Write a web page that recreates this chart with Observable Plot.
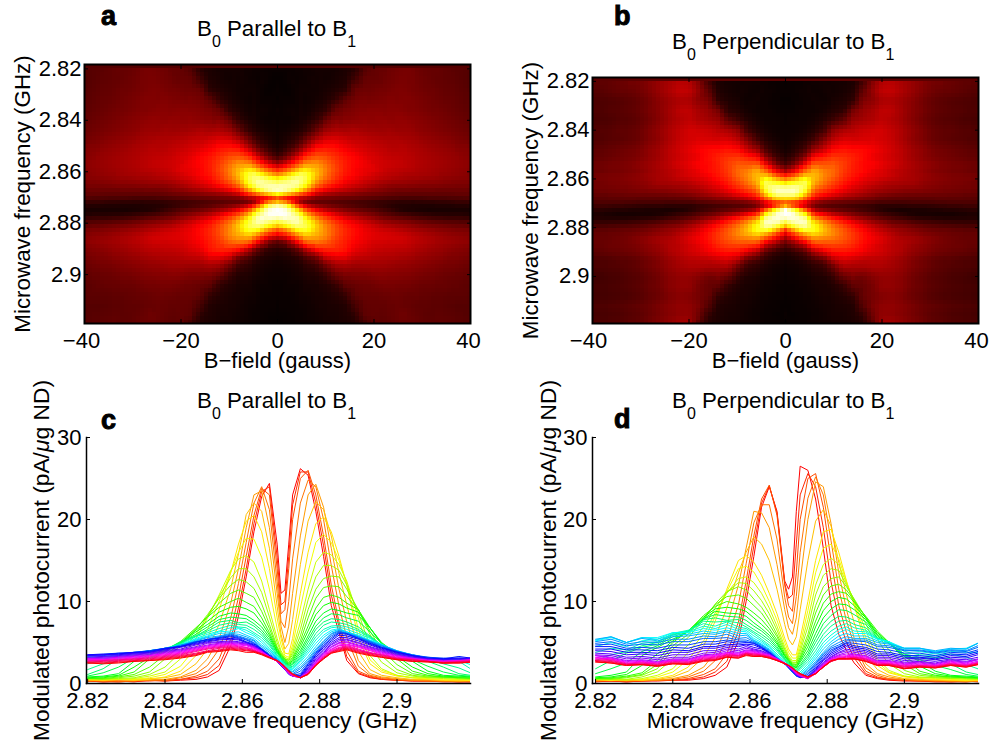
<!DOCTYPE html>
<html><head><meta charset="utf-8">
<script src="https://cdn.jsdelivr.net/npm/d3@7"></script>
<script src="https://cdn.jsdelivr.net/npm/@observablehq/plot@0.6"></script>
<style>
html,body{margin:0;padding:0;background:#fff}
#page{position:relative;width:989px;height:740px;overflow:hidden;font-family:"Liberation Sans",sans-serif;color:#000}
.title{position:absolute;font-size:22.3px;line-height:26px;white-space:nowrap}
.title sub{font-size:16px;line-height:0;vertical-align:-11px}
.letter{position:absolute;font-size:27px;line-height:30px;font-weight:700;-webkit-text-stroke:1px #000}
</style></head><body><div id="page"></div>
<script>
const bValues=[0,1,2,3,4,5,6,7,8,9,10,11,12,13,14,15,16,17,18,19,20,21,22,23,24,25,26,27,28,29,30,31,32,33,34,35,36,37,38,39,40];
const freqs=[2.82,2.824,2.828,2.832,2.836,2.84,2.844,2.848,2.851,2.854,2.857,2.859,2.861,2.863,2.865,2.867,2.869,2.87,2.871,2.872,2.873,2.875,2.877,2.879,2.881,2.883,2.885,2.887,2.89,2.893,2.896,2.9,2.904,2.908,2.912,2.916,2.919];
const curvesParallel=[
[.3,.2,.3,.2,.4,.3,.4,.5,.8,1.6,4.6,8.2,13,18.5,22.8,24.4,17,11,11.4,17,23,26.2,25.4,21,15.5,9.5,6.2,2.8,1.2,.7,.5,.4,.3,.3,.2,.2,.2],
[.3,.2,.2,.3,.3,.4,.5,.7,1.1,2.2,5.4,9.2,14,19.5,23.4,24,15.4,9.6,10,15.5,21.8,25.8,25.8,22,16.8,10.8,6.9,3.3,1.3,.8,.5,.4,.3,.3,.3,.2,.2],
[.3,.3,.2,.3,.4,.3,.5,.9,1.5,3,6.5,10.5,15.5,20.5,23.8,23,14,8.5,9,14,20,25,26,23,18,12,7.5,4,1.5,.9,.6,.4,.4,.3,.3,.2,.3],
[.3,.4,.3,.3,.5,.4,.7,1.2,2.2,4.2,8,12.2,17.2,22,24,21.2,12.4,7.6,6.8,10,15.2,22,24.8,24,20,14.4,9.4,5.6,2.1,1,.7,.5,.4,.3,.3,.3,.2],
[.4,.3,.4,.4,.4,.5,.8,1.6,3,5.5,9.8,14,19,23,23.5,19,11,7,5,7,11,18,23,24.3,21.5,16.5,11.5,7.5,2.8,1.2,.8,.6,.4,.4,.3,.3,.3],
[.4,.4,.5,.5,.6,.7,1.1,2.4,4.2,7.2,11.6,15.8,20.6,22,21,16.5,9.4,6,4.2,4.9,7.8,14.5,19.8,22.2,21.2,18,13.4,9.6,3.9,1.7,1,.7,.5,.5,.4,.3,.4],
[.5,.4,.5,.4,.5,.8,1.5,3.4,5.5,9,13.5,17,19.8,20.5,18.5,14,8,5.5,3.7,3.6,5.5,11,16,19.5,20.3,18.5,15.5,12,5.5,2.4,1.4,.9,.7,.5,.4,.4,.4],
[.5,.6,.5,.5,.7,1.1,2.1,4.4,6.6,10,13.6,16,17.7,17.6,15.4,11.5,6.7,4.7,3.4,3.2,4.7,9.2,13.6,17.2,18.2,17.2,15,12.2,6.6,2.9,1.6,1,.7,.6,.5,.5,.4],
[.6,.5,.5,.6,.9,1.4,3,5.5,8,10.8,13.8,15.2,15.6,14.8,12.5,9,5.5,4,3.2,3,4.2,7.5,11.5,14.8,16,15.7,14.5,12.5,8,3.4,1.8,1,.7,.7,.6,.5,.5],
[.6,.6,.6,.7,1.1,2,3.8,6,8.2,10.6,12.9,14,14,13,11.1,8.1,5,3.8,3,2.9,3.8,6.6,10.2,13,14.4,14.4,13.8,12,8.6,4.6,2.6,1.3,.9,.7,.7,.6,.5],
[.6,.5,.7,.9,1.4,3,4.6,6.6,8.4,10.4,12,12.7,12.4,11.6,9.7,7.2,4.5,3.6,3,2.8,3.5,5.8,9,11.5,12.8,13.1,13,11.5,9,6,3.4,1.7,1,.8,.7,.7,.6],
[.6,.6,.8,1.1,2,3.5,4.8,6.7,8.2,9.8,11,11.4,11,10.5,8.8,6.7,4.3,3.5,3,2.6,3.2,5.2,8,10.4,11.7,11.9,11.8,10.6,9,6.4,4.1,2.3,1.2,.9,.8,.7,.6],
[.6,.7,.9,1.4,3,4,5.1,6.8,8.1,9.3,10,10.4,9.9,9.4,8,6.2,4.2,3.4,2.9,2.5,3,4.8,7,9.2,10.5,10.8,10.5,9.8,9,6.8,4.8,3,1.5,1,.8,.7,.7],
[.7,.8,1,2,3.2,3.8,5,6.5,7.6,8.7,9.3,9.4,9.1,8.6,7.4,5.9,4,3.3,2.8,2.4,2.8,4.4,6.4,8.4,9.5,9.9,9.7,9.2,8.7,6.8,4.9,3.3,2,1.2,.9,.8,.8],
[.8,.9,1.2,2.7,3.5,4,4.9,6.3,7.2,8.2,8.6,8.5,8.3,7.7,6.9,5.6,3.9,3.2,2.7,2.3,2.6,4,5.8,7.6,8.6,9.1,8.9,8.6,8.3,6.8,5,3.6,2.7,1.5,1,.9,.8],
[.9,1.3,2,3.1,3.6,4,5,6,6.9,7.8,8.1,8,7.9,7.3,6.5,5.3,3.8,3.1,2.6,2.2,2.4,3.7,5.4,7,8,8.5,8.4,8,7.6,6.3,4.9,3.6,2.9,2.1,1.4,1,.9],
[1.1,1.8,3,3.4,3.8,4.1,5.1,5.8,6.6,7.5,7.7,7.4,7.5,7,6.2,5,3.7,3.1,2.5,2.1,2.3,3.4,5,6.6,7.5,7.9,7.8,7.5,6.9,5.8,4.7,3.7,3,2.7,2,1.2,1],
[1.7,2.4,3.1,3.5,3.9,4.2,4.9,5.8,6.4,7.1,7.4,7.2,7.1,6.6,5.9,4.8,3.5,3,2.4,2,2.1,3.2,4.6,6.1,7.1,7.5,7.4,7.2,6.6,5.7,4.7,3.7,3.1,2.9,2.4,1.9,1.3],
[2.4,2.9,3.2,3.6,3.9,4.3,4.8,5.7,6.2,6.7,7.1,6.9,6.8,6.2,5.6,4.6,3.4,2.9,2.3,1.9,2,3,4.3,5.7,6.6,7,7.1,6.9,6.4,5.6,4.7,3.7,3.2,3,2.8,2.7,1.8],
[2.7,3,3.2,3.5,4,4.2,4.7,5.5,6,6.4,6.8,6.8,6.5,6,5.3,4.3,3.3,2.8,2.2,1.8,1.8,2.8,4,5.3,6.3,6.8,6.9,6.6,6.1,5.5,4.7,3.8,3.2,3,2.9,2.8,2.3],
[2.9,3,3.3,3.6,4,4.2,4.7,5.4,5.8,6.3,6.4,6.7,6.2,5.8,5,4.1,3.2,2.7,2.1,1.7,1.7,2.6,3.7,4.9,5.9,6.5,6.7,6.3,5.9,5.3,4.8,3.9,3.3,3,2.9,2.9,2.8],
[3,3,3.4,3.6,4,4.3,4.6,5.3,5.7,6.1,6.2,6.3,5.9,5.5,4.7,4,3.1,2.6,2,1.6,1.5,2.3,3.3,4.5,5.6,6.3,6.6,6.3,5.8,5.2,4.7,4,3.4,3,2.9,2.8,2.7],
[3,3.2,3.4,3.7,3.9,4.3,4.6,5.2,5.6,5.8,6.1,6,5.7,5.3,4.5,3.8,3,2.5,1.9,1.5,1.4,2,3,4.2,5.2,6.1,6.5,6.2,5.7,5.2,4.7,4,3.5,3.1,2.9,2.8,2.7],
[3.2,3.3,3.5,3.8,4,4.2,4.7,5.1,5.4,5.7,6,5.8,5.5,5.2,4.3,3.6,2.9,2.4,1.8,1.4,1.2,1.8,2.8,4,5.1,6,6.4,6.1,5.7,5.1,4.6,3.9,3.5,3.1,3,2.9,2.8],
[3.3,3.4,3.6,3.8,4,4.2,4.6,5.1,5.3,5.6,5.9,5.7,5.4,5,4.2,3.5,2.8,2.3,1.8,1.3,1.1,1.5,2.6,3.8,4.9,5.8,6.3,6.1,5.6,5.1,4.5,3.9,3.5,3.2,3,3,2.9],
[3.4,3.5,3.7,3.7,4,4.3,4.5,5.1,5.3,5.6,5.8,5.6,5.3,4.9,4.2,3.4,2.7,2.3,1.7,1.2,1,1.2,2.4,3.7,4.7,5.6,6.2,6.1,5.5,5,4.4,3.9,3.4,3.2,3.1,3.1,3],
[3.5,3.6,3.7,3.8,3.9,4.3,4.5,5,5.4,5.5,5.7,5.5,5.1,4.8,4.2,3.4,2.7,2.2,1.7,1.2,1,1,2.3,3.5,4.6,5.4,6.1,6,5.5,4.9,4.4,3.8,3.4,3.1,3,3.3,3.1],
[3.5,3.5,3.6,3.8,3.8,4.2,4.5,4.9,5.2,5.4,5.5,5.4,5,4.7,4.1,3.4,2.7,2.2,1.7,1.2,1,.9,2.1,3.4,4.4,5.2,5.9,5.8,5.4,4.8,4.3,3.8,3.4,3,3,3.1,3.1],
[3.4,3.5,3.5,3.7,3.8,4.1,4.4,4.8,5.1,5.3,5.4,5.3,5,4.6,4.1,3.3,2.7,2.2,1.7,1.1,.9,.9,1.9,3.2,4.2,5,5.6,5.6,5.2,4.7,4.2,3.7,3.3,3,2.9,3,3.1],
[3.2,3.3,3.4,3.6,3.7,4,4.2,4.7,5,5.1,5.2,5.1,4.9,4.6,4,3.3,2.7,2.2,1.7,1.2,.9,.8,1.8,3,4,4.8,5.4,5.4,5,4.5,4.1,3.6,3.2,3,2.8,2.9,3],
[3.1,3.2,3.3,3.5,3.6,3.9,4.1,4.5,4.9,5,5.1,5,4.8,4.5,3.9,3.3,2.7,2.2,1.7,1.2,.9,.8,1.6,2.9,3.8,4.7,5.2,5.3,4.9,4.4,4,3.5,3.1,2.9,2.8,2.8,2.9],
[3,3.1,3.2,3.4,3.5,3.8,4,4.4,4.7,4.9,5,4.9,4.8,4.4,3.9,3.3,2.7,2.3,1.8,1.2,.9,.7,1.5,2.7,3.7,4.5,5,5.1,4.7,4.3,3.9,3.4,3.1,2.9,2.8,2.7,2.9],
[3,3,3.2,3.3,3.4,3.7,3.9,4.3,4.6,4.8,4.9,4.8,4.7,4.4,3.9,3.3,2.7,2.3,1.8,1.2,.9,.7,1.4,2.6,3.6,4.4,4.9,5,4.6,4.2,3.8,3.4,3.1,2.8,2.7,2.7,2.8],
[3,2.9,3.1,3.2,3.4,3.6,3.8,4.2,4.5,4.7,4.8,4.7,4.6,4.3,3.9,3.2,2.7,2.3,1.8,1.3,1,.7,1.3,2.5,3.5,4.2,4.7,4.8,4.5,4.1,3.7,3.3,3,2.8,2.7,2.8,2.8],
[2.9,2.9,3,3.1,3.3,3.5,3.7,4.1,4.4,4.6,4.7,4.6,4.4,4.2,3.8,3.2,2.7,2.3,1.9,1.3,1,.7,1.3,2.4,3.4,4.1,4.6,4.7,4.4,4,3.6,3.2,3,2.8,2.7,2.8,2.9],
[2.8,2.8,2.9,3,3.2,3.4,3.6,4,4.3,4.5,4.6,4.5,4.4,4.1,3.7,3.2,2.7,2.3,1.9,1.3,1,.7,1.2,2.3,3.3,4,4.4,4.6,4.2,3.8,3.5,3.1,3,2.7,2.6,2.7,2.8],
[2.7,2.8,2.9,3,3.1,3.3,3.5,3.9,4.2,4.4,4.5,4.4,4.3,4,3.7,3.2,2.7,2.4,1.9,1.4,1,.7,1.2,2.3,3.2,3.9,4.3,4.5,4.1,3.7,3.5,3.1,2.9,2.7,2.6,2.7,2.8],
[2.6,2.7,2.8,2.9,3,3.2,3.4,3.7,4,4.3,4.4,4.3,4.2,4,3.6,3.2,2.8,2.4,1.9,1.5,1.1,.7,1.2,2.3,3.1,3.8,4.2,4.4,4,3.7,3.4,3,2.9,2.7,2.5,2.6,2.7],
[2.6,2.6,2.7,2.8,2.9,3.1,3.3,3.6,3.9,4.1,4.3,4.2,4.1,3.9,3.6,3.2,2.8,2.4,2,1.5,1.1,.7,1.2,2.2,3.1,3.8,4.1,4.3,3.9,3.6,3.3,3,2.8,2.7,2.5,2.6,2.7],
[2.5,2.5,2.6,2.7,2.8,3,3.2,3.5,3.9,4,4.2,4.1,4,3.9,3.6,3.2,2.8,2.5,2,1.5,1.1,.7,1.1,2.2,3,3.7,4,4.2,3.8,3.5,3.2,2.9,2.7,2.7,2.5,2.5,2.6],
[2.5,2.4,2.5,2.7,2.8,2.9,3.1,3.4,3.8,3.9,4.1,4,3.8,3.8,3.5,3.1,2.8,2.5,2.1,1.6,1.2,.7,1.1,2.2,3,3.7,3.9,4.1,3.7,3.4,3.2,2.9,2.7,2.6,2.5,2.5,2.6]
];
const curvesPerpendicular=[
[.2,.3,.2,.3,.3,.4,.4,.6,1,2,5.2,10,15.5,21.5,24,21,12.5,11.5,13,21,26.5,26,22.5,16.5,9.5,6,4,2.5,1,.6,.4,.3,.3,.2,.2,.3,.2],
[.3,.3,.2,.3,.4,.4,.5,.8,1.4,2.7,6.4,11.2,16.8,22,24.1,20.8,12.2,10.4,10.8,17,23,25.6,24,19,12.4,7.8,5,3.1,1.2,.7,.5,.4,.3,.3,.2,.2,.3],
[.3,.3,.3,.3,.4,.4,.6,1.1,1.8,3.6,7.5,12.5,18,22.5,24.2,20.5,12,9.5,8.8,13.5,20,25,25.6,21.5,15,9.5,6.2,3.8,1.5,.8,.5,.4,.3,.3,.3,.2,.3],
[.3,.4,.3,.4,.4,.5,.8,1.5,2.8,5.2,9.6,14.6,19.6,21.8,21.8,17.6,10.5,8.1,7.3,10.6,16,22.6,25.2,23,17.4,11.5,7.6,4.7,1.9,1,.6,.5,.4,.3,.3,.3,.3],
[.4,.4,.4,.4,.4,.6,1,2,3.8,7,12,16.5,21,20.8,19,14.5,9,6.8,6,8,12.5,20,24.6,24,19.5,13.5,9,5.5,2.4,1.2,.8,.5,.4,.4,.3,.3,.3],
[.4,.5,.4,.4,.5,.8,1.5,3.2,5.6,9.2,13.5,16,17.9,17,15,11.5,7.2,5.4,4.7,5.7,9,15,19.8,21.2,19.2,14.8,10.8,7.4,3.5,1.7,1,.6,.5,.4,.4,.3,.4],
[.5,.4,.5,.4,.6,1,2,4.6,7.6,11.5,15,15.6,14.8,13.2,11,8.5,5.5,4.2,3.5,3.5,5.5,10,15,18.5,18.8,16,12.5,9.5,4.8,2.2,1.3,.8,.6,.5,.4,.4,.4],
[.5,.4,.5,.5,.8,1.4,2.9,5.2,8.2,11.2,14,14.3,13.6,12,10,7.7,5,3.8,3.1,3.1,4.8,8.9,13.5,16.5,17,15.2,12.4,9.8,5.6,2.6,1.4,.9,.7,.6,.5,.4,.5],
[.5,.5,.4,.6,1,1.8,3.8,6,8.6,11,12.8,13,12.3,11,9.2,7,4.5,3.4,2.8,2.8,4.3,7.8,12,14.5,15.3,14.5,12.2,10,6.5,3,1.6,.9,.7,.7,.6,.5,.5],
[.5,.6,.5,.8,1.4,3,4.7,6.9,9.2,11.1,12.3,12.2,11.3,10.1,8.5,6.5,4.2,3.2,2.6,2.6,3.9,6.9,10.8,13.2,14,13.8,12,10.2,7.3,4.2,2.4,1.2,.8,.7,.6,.6,.5],
[.6,.5,.7,1,1.8,4.2,5.6,7.8,9.7,11.2,11.8,11.4,10.3,9.3,7.8,6,4,3,2.5,2.5,3.5,6,9.5,11.8,12.8,13,11.8,10.3,8,5.4,3.2,1.6,1,.8,.7,.7,.6],
[.6,.6,.8,1.1,2.3,4.6,6,8,9.6,10.6,10.8,10.4,9.5,8.6,7.2,5.7,3.7,3,2.4,2.3,3.2,5.5,8.6,10.8,11.9,12.1,11.4,10.1,8.1,5.9,4.1,2.3,1.2,.9,.8,.7,.6],
[.6,.7,.9,1.3,2.8,5,6.4,8.3,9.4,10,9.7,9.3,8.6,7.8,6.7,5.3,3.5,2.9,2.3,2.2,3,5,7.6,9.8,10.9,11.2,11,9.9,8.2,6.4,5,3,1.5,1,.8,.7,.7],
[.7,.8,1.1,2.2,3.6,5.2,6.4,8.1,9.1,9.3,9.1,8.8,8,7.2,6.3,5,3.4,2.8,2.2,2,2.8,4.5,6.9,8.9,10,10.5,10.3,9.5,8,6.2,5,3.3,2.1,1.2,.9,.8,.7],
[.8,1,1.4,3.4,4.4,5.4,6.3,7.9,8.8,8.6,8.5,8.2,7.4,6.7,5.9,4.8,3.3,2.7,2.1,1.9,2.6,4,6.1,8,9.1,9.7,9.6,9,7.8,6,4.9,3.6,2.7,1.5,1,.9,.8],
[1.2,1.8,2.5,3.9,4.6,5.7,6.3,7.9,8.4,8.2,8.1,7.7,7,6.4,5.6,4.5,3.1,2.6,2,1.7,2.3,3.6,5.5,7.3,8.3,9,8.9,8.4,7.5,5.8,4.9,3.4,2.9,2.2,1.7,1.1,.9],
[1.8,2.8,3.7,4.4,4.8,5.9,6.4,7.8,8,7.7,7.8,7.2,6.6,6,5.3,4.3,3,2.5,1.9,1.6,2.1,3.3,5,6.6,7.6,8.2,8.1,7.7,7.2,5.6,4.9,3.3,3,3,2.4,1.4,1.1],
[2.8,3.5,3.9,4.6,5,6,6.4,7.6,7.5,7.6,7.4,6.9,6.3,5.7,5,4.1,2.9,2.4,1.8,1.4,1.9,3,4.5,6,7,7.6,7.7,7.2,6.8,5.5,5,3.6,3.2,3.2,3,2.3,1.8],
[3.8,4.3,4.1,4.9,5.1,6.1,6.5,7.3,7,7.5,6.9,6.7,6.1,5.4,4.7,3.9,2.8,2.3,1.7,1.3,1.7,2.7,4,5.5,6.4,7,7.3,6.8,6.5,5.5,5.1,3.9,3.5,3.4,3.6,3.2,2.6],
[4.5,5,4.5,5.2,5.4,6.2,6.3,7,6.7,7.2,6.6,6.5,5.8,5.2,4.5,3.6,2.6,2.1,1.5,1.1,1.4,2.4,3.6,5,5.9,6.6,6.9,6.4,6.3,5.4,5.1,4.1,3.9,3.6,3.9,3.8,3.8],
[5.2,5.6,5,5.6,5.6,6.2,6.2,6.7,6.5,6.8,6.4,6.3,5.5,5,4.4,3.4,2.5,2,1.4,1,1.2,2.1,3.3,4.6,5.5,6.2,6.6,6.1,6.1,5.4,5.1,4.3,4.3,3.8,4.2,4.3,4.9],
[5.3,5.7,5,5.6,5.4,5.9,6,6.4,6.2,6.5,6.1,6.1,5.3,4.8,4.2,3.3,2.4,2,1.4,.9,1,1.9,3,4.2,5.1,5.8,6.1,5.8,5.8,5.2,4.9,4.3,4.3,3.9,4.2,4.2,4.9],
[5.4,5.7,5,5.5,5.2,5.7,5.8,6.1,6,6.3,5.8,5.9,5.2,4.7,4.1,3.2,2.4,2,1.4,.9,.9,1.7,2.7,3.8,4.8,5.4,5.7,5.5,5.5,5,4.8,4.3,4.3,4,4.3,4.2,4.9],
[5.1,5.4,4.8,5.1,5,5.4,5.4,5.8,5.7,6,5.5,5.6,5.1,4.6,4,3.1,2.4,1.9,1.4,.9,.8,1.5,2.5,3.6,4.5,5,5.4,5.3,5.3,4.7,4.6,4.1,4.1,3.8,4.1,4,4.6],
[4.9,5.1,4.6,4.8,4.7,5.1,5.1,5.5,5.5,5.6,5.3,5.3,5,4.5,3.9,3.1,2.4,1.9,1.4,.9,.7,1.3,2.4,3.5,4.3,4.7,5.2,5.2,5.1,4.5,4.4,4,4,3.7,4,3.9,4.4],
[4.7,4.8,4.3,4.4,4.3,4.7,4.7,5.1,5.1,5.3,5.1,5.1,4.9,4.4,3.8,3,2.4,1.9,1.4,1,.7,1.1,2.2,3.3,4.1,4.5,5,4.9,4.7,4.2,4.1,3.7,3.7,3.4,3.8,3.7,4.1],
[4.5,4.5,4.1,4.1,4,4.4,4.3,4.8,4.8,5.1,4.9,5,4.9,4.4,3.8,3,2.4,2,1.5,1,.8,.9,2,3.1,3.9,4.4,4.9,4.6,4.4,3.9,3.8,3.4,3.4,3.2,3.6,3.5,3.9],
[4.2,4.2,3.8,3.8,3.7,4.1,4,4.5,4.5,4.8,4.7,4.8,4.7,4.3,3.7,3,2.4,2,1.5,1,.8,.8,1.8,2.9,3.7,4.2,4.7,4.4,4.2,3.6,3.6,3.2,3.2,3,3.4,3.3,3.7],
[4,3.9,3.5,3.6,3.4,3.8,3.8,4.3,4.3,4.6,4.5,4.7,4.4,4.2,3.7,3,2.4,2,1.5,1,.8,.7,1.7,2.8,3.5,4,4.5,4.2,4,3.4,3.4,3,3.1,2.9,3.2,3.1,3.5],
[3.7,3.6,3.2,3.3,3.1,3.5,3.5,4,4,4.4,4.2,4.5,4.2,4,3.6,3,2.4,2,1.5,1,.8,.7,1.6,2.6,3.3,3.8,4.2,4,3.8,3.2,3.2,2.8,2.9,2.7,3,2.9,3.2],
[3.5,3.4,3,3.1,2.9,3.2,3.2,3.7,3.8,4.2,4,4.3,4.1,3.9,3.6,3,2.4,2,1.6,1.1,.9,.7,1.5,2.5,3.2,3.7,4,3.8,3.6,3,3,2.6,2.7,2.5,2.9,2.7,3],
[3.4,3.2,2.8,2.9,2.7,3,3,3.5,3.6,4,3.8,4.1,4,3.8,3.5,3,2.4,2.1,1.6,1.1,.9,.6,1.4,2.4,3.1,3.5,3.8,3.6,3.4,2.8,2.8,2.5,2.6,2.4,2.8,2.6,2.9],
[3.4,3.1,2.7,2.8,2.6,2.9,2.9,3.4,3.5,3.8,3.7,4,3.9,3.7,3.5,3,2.5,2.1,1.7,1.2,.9,.6,1.4,2.3,3,3.4,3.6,3.5,3.3,2.7,2.7,2.4,2.5,2.3,2.7,2.5,2.9],
[3.2,3,2.6,2.7,2.5,2.8,2.8,3.3,3.4,3.7,3.6,3.9,3.8,3.6,3.4,3,2.5,2.1,1.7,1.2,1,.6,1.3,2.2,3,3.3,3.4,3.4,3.2,2.6,2.6,2.3,2.4,2.2,2.6,2.4,2.7],
[3.1,3,2.5,2.6,2.5,2.8,2.7,3.2,3.3,3.6,3.5,3.8,3.7,3.6,3.4,2.9,2.5,2.2,1.8,1.3,1,.6,1.3,2.2,2.9,3.2,3.3,3.3,3.1,2.6,2.5,2.2,2.3,2.2,2.5,2.3,2.6],
[3,2.9,2.4,2.5,2.4,2.7,2.6,3.1,3.2,3.5,3.4,3.7,3.6,3.5,3.3,2.9,2.5,2.2,1.8,1.3,1,.6,1.2,2.1,2.8,3.1,3.2,3.2,3,2.5,2.4,2.1,2.2,2.1,2.4,2.2,2.5],
[2.9,2.8,2.4,2.5,2.3,2.6,2.6,3,3.1,3.5,3.4,3.7,3.6,3.5,3.3,2.9,2.5,2.2,1.8,1.4,1.1,.7,1.2,2.1,2.8,3.1,3.1,3.2,3,2.4,2.4,2.1,2.2,2.1,2.4,2.2,2.5],
[2.8,2.7,2.3,2.4,2.2,2.5,2.5,2.9,3,3.4,3.3,3.6,3.5,3.4,3.2,2.8,2.5,2.2,1.9,1.4,1.1,.7,1.2,2,2.7,3,3,3.1,2.9,2.3,2.3,2,2.1,2,2.3,2.1,2.4],
[2.8,2.6,2.3,2.3,2.2,2.5,2.4,2.8,2.9,3.3,3.2,3.6,3.4,3.4,3.2,2.8,2.5,2.2,1.9,1.5,1.2,.8,1.2,2,2.7,3,3,3,2.8,2.3,2.3,1.9,2.1,2,2.3,2.1,2.4],
[2.7,2.5,2.2,2.3,2.1,2.4,2.4,2.8,2.9,3.2,3.1,3.5,3.3,3.3,3.1,2.8,2.4,2.2,1.9,1.5,1.2,.8,1.2,2,2.7,3,3,3,2.7,2.2,2.2,1.8,2,1.9,2.2,2,2.3],
[2.6,2.5,2.2,2.3,2.1,2.4,2.3,2.7,2.8,3.2,3.1,3.4,3.3,3.3,3.1,2.8,2.4,2.2,1.9,1.5,1.2,.8,1.2,2,2.8,3,3,3,2.7,2.2,2.2,1.8,2,1.9,2.2,2,2.3]
];
const fieldTicks=[-40,-20,0,20,40];
const freqTicks=[2.82,2.84,2.86,2.88,2.9];
const currentTicks=[0,10,20,30];
const fieldLabel="B\u2212field (gauss)",freqLabel="Microwave frequency (GHz)",currentLabel="Modulated photocurrent (pA/\u03bcg ND)";

const FS=22;
const fmt=d=>String(d).replace("-","\u2212");
const page=document.getElementById("page");
const baseStyle=(left,top)=>({position:"absolute",left:left+"px",top:top+"px",background:"transparent",overflow:"visible",fontFamily:"'Liberation Sans',sans-serif"});
const rows=curves=>curves.flatMap((c,i)=>c.map((v,j)=>({b:bValues[i],f:freqs[j],v})));
const mirrored=curves=>rows(curves).flatMap(r=>r.b===0?[r]:[r,{...r,b:-r.b}]);
const tickText=extra=>({x:d=>d,text:fmt,frameAnchor:"bottom",lineAnchor:"middle",dy:17,fontSize:FS,...extra});
function heat(curves,[left,mL,mR,mT,f0,f1,firstDx]){
  const svg=Plot.plot({
    width:489,height:375,marginLeft:mL,marginRight:mR,marginTop:mT,marginBottom:52,
    style:baseStyle(left,0),
    x:{domain:[-40,40]},y:{domain:[f1,f0]},
    color:{type:"linear",domain:[0,7.5,18,26],range:["#000000","#ff0000","#ffff00","#ffffff"],clamp:true},
    marks:[
      Plot.raster(mirrored(curves),{x:"b",y:"f",fill:"v",x1:-40,x2:40,y1:f1,y2:f0,interpolate:"barycentric",pixelSize:4,imageRendering:"pixelated"}),
      Plot.frame({stroke:"#000",strokeWidth:2}),
      Plot.axisX({ticks:fieldTicks,anchor:"bottom",tickSize:-4,tickFormat:()=>"",label:null}),
      Plot.axisX({ticks:fieldTicks,anchor:"top",tickSize:-4,tickFormat:()=>"",label:null}),
      Plot.axisY({ticks:freqTicks,anchor:"left",tickSize:-4,tickPadding:7,tickFormat:fmt,fontSize:FS,label:null}),
      Plot.axisY({ticks:freqTicks,anchor:"right",tickSize:-4,tickFormat:()=>"",label:null}),
      Plot.text(fieldTicks.slice(1,-1),tickText({})),
      Plot.text(fieldTicks.slice(0,1),tickText({dx:firstDx})),
      Plot.text(fieldTicks.slice(-1),tickText({dx:-2})),
      Plot.text([fieldLabel],{frameAnchor:"bottom",lineAnchor:"middle",dy:37,fontSize:FS}),
      Plot.text([freqLabel],{frameAnchor:"left",textAnchor:"middle",lineAnchor:"middle",rotate:-90,dx:-62,fontSize:22.4})
    ]
  });
  page.appendChild(svg);
}
function lines(curves,[left,mL,mR,x0,x1,off]){
  const svg=Plot.plot({
    width:489,height:360,marginLeft:mL,marginRight:mR,marginTop:57,marginBottom:57,
    style:baseStyle(left,380),
    x:{domain:[x0,x1]},y:{domain:[0,30]},
    color:{type:"linear",domain:[0,40],interpolate:t=>`hsl(${t*360},100%,50%)`},
    marks:[
      Plot.line(rows(curves),{x:"f",y:"v",z:"b",stroke:"b",strokeWidth:1,clip:true}),
      Plot.frame({anchor:"left",stroke:"#000",strokeWidth:1.5}),
      Plot.frame({anchor:"bottom",stroke:"#000",strokeWidth:1.5}),
      Plot.axisX({ticks:freqTicks,anchor:"bottom",tickSize:-4,tickFormat:()=>"",label:null}),
      Plot.axisY({ticks:currentTicks,anchor:"left",tickSize:-4,tickPadding:9,tickFormat:fmt,fontSize:FS,label:null}),
      Plot.text(freqTicks,tickText({})),
      Plot.text([freqLabel],{frameAnchor:"bottom",lineAnchor:"middle",dy:37,fontSize:22.4}),
      Plot.text([currentLabel],{frameAnchor:"left",textAnchor:"middle",lineAnchor:"middle",rotate:-90,dx:-off,fontSize:22.8})
    ]
  });
  svg.querySelectorAll("text").forEach(t=>{
    if(t.textContent===currentLabel){
      t.innerHTML='Modulated photocurrent (pA/<tspan font-style="italic">\u03bc</tspan>g ND)';
    }
  });
  page.appendChild(svg);
}
heat(curvesParallel,[0,84,19,64,2.8183,2.919,-3]);
heat(curvesPerpendicular,[500,92,11,77,2.8184,2.9193,-4]);
lines(curvesParallel,[0,86,19,2.8197,2.919,44.5]);
lines(curvesPerpendicular,[500,92,11,2.8192,2.9192,44]);
function title(text,x,baseline){
  const d=document.createElement("div");d.className="title";
  d.style.left=x+"px";d.style.top=(baseline-21)+"px";
  d.innerHTML=`B<sub>0</sub> ${text} to B<sub>1</sub>`;page.appendChild(d);
}
title("Parallel",197,37);title("Perpendicular",672,50);title("Parallel",197,409);title("Perpendicular",672,409);
function letter(t,x,y){
  const d=document.createElement("div");d.className="letter";d.textContent=t;
  d.style.left=x+"px";d.style.top=y+"px";page.appendChild(d);
}
letter("a",101,1);letter("b",614,1);letter("c",101,405);letter("d",614,404);
</script></body></html>
